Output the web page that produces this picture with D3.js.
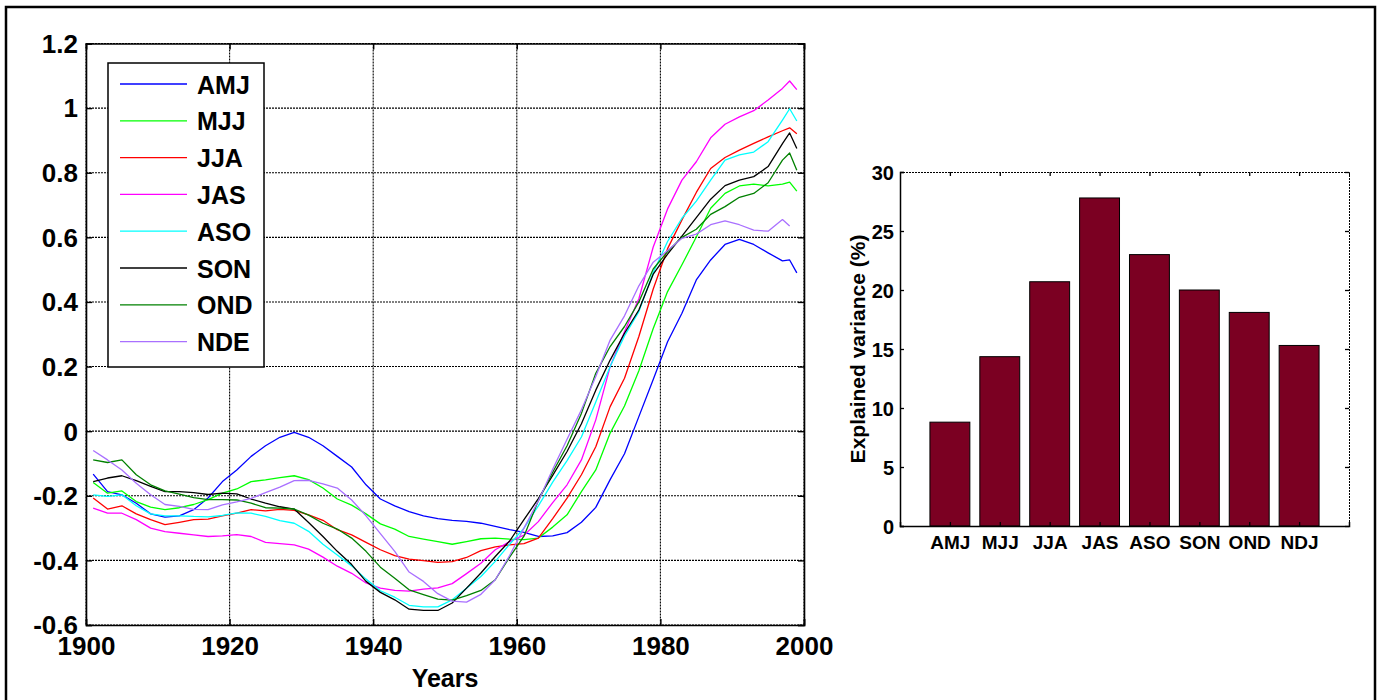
<!DOCTYPE html>
<html>
<head>
<meta charset="utf-8">
<script src="https://cdn.jsdelivr.net/npm/d3@7"></script>
<style>
  body { margin: 0; background: #fff; }
  svg { display: block; font-family: "Liberation Sans", Arial, Helvetica, sans-serif; font-weight: bold; }
</style>
</head>
<body>
<svg id="fig" width="1380" height="700"></svg>
<script>
// ---- Seasonal index series (running-mean curves) ----
const years = [1901,1903,1905,1907,1909,1911,1913,1915,1917,1919,
               1921,1923,1925,1927,1929,1931,1933,1935,1937,1939,
               1941,1943,1945,1947,1949,1951,1953,1955,1957,1959,
               1961,1963,1965,1967,1969,1971,1973,1975,1977,1979,
               1981,1983,1985,1987,1989,1991,1993,1995,1997,1998,1999];

const amj = [-0.133,-0.187,-0.197,-0.223,-0.256,-0.266,-0.262,-0.243,-0.207,-0.156,
             -0.120,-0.078,-0.045,-0.019,-0.004,-0.019,-0.045,-0.078,-0.111,-0.166,
             -0.210,-0.231,-0.249,-0.262,-0.271,-0.276,-0.279,-0.285,-0.295,-0.305,
             -0.313,-0.326,-0.324,-0.314,-0.282,-0.236,-0.150,-0.070,0.045,0.160,
             0.277,0.365,0.468,0.530,0.578,0.594,0.578,0.552,0.527,0.530,0.490];
const mjj = [-0.159,-0.192,-0.185,-0.218,-0.235,-0.243,-0.237,-0.227,-0.212,-0.192,
             -0.179,-0.156,-0.151,-0.144,-0.138,-0.150,-0.176,-0.210,-0.229,-0.256,
             -0.287,-0.303,-0.326,-0.334,-0.342,-0.350,-0.342,-0.333,-0.331,-0.334,
             -0.336,-0.331,-0.297,-0.259,-0.187,-0.120,-0.006,0.078,0.187,0.318,
             0.432,0.515,0.601,0.690,0.736,0.759,0.765,0.759,0.765,0.771,0.743];
const jja = [-0.207,-0.241,-0.231,-0.256,-0.274,-0.289,-0.282,-0.274,-0.272,-0.262,
             -0.254,-0.243,-0.247,-0.242,-0.245,-0.259,-0.276,-0.305,-0.321,-0.344,
             -0.367,-0.385,-0.396,-0.401,-0.406,-0.404,-0.391,-0.370,-0.358,-0.352,
             -0.348,-0.331,-0.271,-0.207,-0.135,-0.048,0.076,0.164,0.293,0.440,
             0.565,0.654,0.739,0.813,0.847,0.870,0.891,0.911,0.930,0.939,0.921];
const jas = [-0.238,-0.254,-0.254,-0.274,-0.300,-0.311,-0.316,-0.321,-0.326,-0.324,
             -0.320,-0.326,-0.344,-0.348,-0.352,-0.365,-0.390,-0.418,-0.440,-0.470,
             -0.486,-0.493,-0.495,-0.489,-0.485,-0.472,-0.441,-0.409,-0.367,-0.342,
             -0.322,-0.280,-0.221,-0.166,-0.089,0.035,0.200,0.308,0.410,0.570,
             0.688,0.777,0.834,0.908,0.950,0.973,0.992,1.025,1.061,1.084,1.057];
const aso = [-0.197,-0.202,-0.197,-0.231,-0.256,-0.262,-0.262,-0.264,-0.265,-0.261,
             -0.253,-0.254,-0.264,-0.277,-0.285,-0.310,-0.350,-0.383,-0.417,-0.458,
             -0.494,-0.514,-0.539,-0.544,-0.544,-0.522,-0.486,-0.450,-0.403,-0.350,
             -0.300,-0.231,-0.158,-0.091,-0.018,0.090,0.200,0.295,0.370,0.491,
             0.587,0.659,0.712,0.777,0.839,0.855,0.864,0.896,0.963,0.998,0.960];
const son = [-0.156,-0.145,-0.138,-0.153,-0.171,-0.187,-0.187,-0.190,-0.196,-0.192,
             -0.194,-0.210,-0.223,-0.234,-0.241,-0.283,-0.326,-0.372,-0.413,-0.465,
             -0.499,-0.522,-0.551,-0.555,-0.555,-0.532,-0.486,-0.439,-0.388,-0.340,
             -0.274,-0.209,-0.137,-0.063,0.023,0.127,0.220,0.303,0.375,0.486,
             0.548,0.604,0.661,0.718,0.760,0.777,0.788,0.819,0.890,0.923,0.875];
const ond = [-0.089,-0.097,-0.089,-0.135,-0.166,-0.185,-0.195,-0.206,-0.212,-0.212,
             -0.213,-0.223,-0.237,-0.238,-0.241,-0.260,-0.285,-0.303,-0.331,-0.372,
             -0.421,-0.455,-0.491,-0.506,-0.520,-0.523,-0.509,-0.493,-0.460,-0.390,
             -0.325,-0.215,-0.127,-0.045,0.055,0.179,0.262,0.324,0.400,0.502,
             0.556,0.600,0.625,0.671,0.695,0.724,0.736,0.769,0.839,0.861,0.808];
const nde = [-0.060,-0.089,-0.120,-0.161,-0.197,-0.227,-0.233,-0.242,-0.243,-0.228,
             -0.219,-0.208,-0.190,-0.173,-0.153,-0.152,-0.163,-0.176,-0.213,-0.262,
             -0.317,-0.372,-0.436,-0.465,-0.503,-0.526,-0.529,-0.505,-0.460,-0.385,
             -0.300,-0.216,-0.118,-0.025,0.066,0.169,0.282,0.357,0.450,0.523,
             0.559,0.597,0.610,0.639,0.651,0.639,0.622,0.619,0.655,0.635,null];

const seasonNames  = ["AMJ","MJJ","JJA","JAS","ASO","SON","OND","NDE"];
const seasonValues = [amj, mjj, jja, jas, aso, son, ond, nde];
const seasonColors = ["#0000ff","#00ff00","#ff0000","#ff00ff","#00ffff","#000000","#008000","#a970ff"];

const yearTicks    = [1900,1920,1940,1960,1980,2000];
const anomalyTicks = [-0.6,-0.4,-0.2,0,0.2,0.4,0.6,0.8,1,1.2];

// ---- Explained variance per season ----
const barCategories     = ["AMJ","MJJ","JJA","JAS","ASO","SON","OND","NDJ"];
const explainedVariance = [8.8,14.35,20.7,27.8,23.0,20.0,18.1,15.3];
const varianceTicks     = [0,5,10,15,20,25,30];

const svg = d3.select("#fig");

// page frame
svg.append("rect")
  .attr("x", 6).attr("y", 7).attr("width", 1369).attr("height", 700)
  .attr("fill", "none").attr("stroke", "#000").attr("stroke-width", 2.5);

// ================= Left panel: time series =================
const L = { left: 86, right: 804, top: 43.5, bottom: 625 };
const x = d3.scaleLinear().domain([1900, 2000]).range([L.left, L.right]);
const y = d3.scaleLinear().domain([-0.6, 1.2]).range([L.bottom, L.top]);

const left = svg.append("g");

// dotted grid
const gridStyle = sel => sel
  .attr("stroke", "#000").attr("stroke-width", 1.1).attr("stroke-dasharray", "2,1");
left.append("g").selectAll("line").data(yearTicks).join("line")
  .attr("x1", d => x(d)).attr("x2", d => x(d))
  .attr("y1", L.top).attr("y2", L.bottom)
  .call(gridStyle);
left.append("g").selectAll("line").data(anomalyTicks).join("line")
  .attr("x1", L.left).attr("x2", L.right)
  .attr("y1", d => y(d)).attr("y2", d => y(d))
  .call(gridStyle);

// series
const line = d3.line()
  .defined(d => d[1] !== null)
  .x(d => x(d[0]))
  .y(d => y(d[1]));

seasonValues.forEach((vals, i) => {
  left.append("path")
    .datum(years.map((yr, k) => [yr, vals[k]]))
    .attr("d", line)
    .attr("fill", "none")
    .attr("stroke", seasonColors[i])
    .attr("stroke-width", 1.3)
    .attr("stroke-linejoin", "round");
});

// axes with inward ticks
const fmtAnom = d => String(+d.toFixed(1));
const gxB = left.append("g").attr("transform", `translate(0,${L.bottom})`)
  .call(d3.axisBottom(x).tickValues(yearTicks).tickSize(-6).tickFormat(d3.format("d")));
const gxT = left.append("g").attr("transform", `translate(0,${L.top})`)
  .call(d3.axisTop(x).tickValues(yearTicks).tickSize(-6).tickFormat(""));
const gyL = left.append("g").attr("transform", `translate(${L.left},0)`)
  .call(d3.axisLeft(y).tickValues(anomalyTicks).tickSize(-6).tickPadding(8).tickFormat(fmtAnom));
const gyR = left.append("g").attr("transform", `translate(${L.right},0)`)
  .call(d3.axisRight(y).tickValues(anomalyTicks).tickSize(-6).tickFormat(""));

[gxB, gxT, gyL, gyR].forEach(g => {
  g.select(".domain").attr("stroke", "#000").attr("stroke-width", 1.6);
  g.selectAll(".tick line").attr("stroke", "#000").attr("stroke-width", 1.4);
  g.selectAll("text").attr("fill", "#000").attr("font-family", null).attr("font-size", 26).attr("font-weight", "bold");
});
gxB.selectAll("text").attr("y", 30).attr("dy", 0);
gyL.selectAll("text").attr("dy", "0.34em");

left.append("text")
  .attr("x", (L.left + L.right) / 2).attr("y", 687)
  .attr("text-anchor", "middle").attr("font-size", 25)
  .text("Years");

// legend
const leg = left.append("g");
leg.append("rect")
  .attr("x", 108).attr("y", 63).attr("width", 156).attr("height", 304)
  .attr("fill", "#fff").attr("stroke", "#000").attr("stroke-width", 1.5);
const legStep = 36.8;
seasonNames.forEach((name, i) => {
  const ly = 84 + i * legStep;
  leg.append("line")
    .attr("x1", 120).attr("x2", 187).attr("y1", ly).attr("y2", ly)
    .attr("stroke", seasonColors[i]).attr("stroke-width", 1.3);
  leg.append("text")
    .attr("x", 197).attr("y", ly + 9.5)
    .attr("font-size", 25)
    .text(name);
});

// ================= Right panel: explained variance bars =================
const B = { left: 900, right: 1349, top: 172, bottom: 526 };
const xb = d3.scaleLinear().domain([0, 9]).range([B.left, B.right]);
const yb = d3.scaleLinear().domain([0, 30]).range([B.bottom, B.top]);
const catPos = barCategories.map((c, i) => i + 1);

const right = svg.append("g");

right.append("g").selectAll("rect").data(explainedVariance).join("rect")
  .attr("x", (d, i) => xb(catPos[i] - 0.4))
  .attr("width", xb(0.8) - xb(0))
  .attr("y", d => yb(d))
  .attr("height", d => yb(0) - yb(d))
  .attr("fill", "#7b0022")
  .attr("stroke", "#000").attr("stroke-width", 1);

const bxB = right.append("g").attr("transform", `translate(0,${B.bottom})`)
  .call(d3.axisBottom(xb).tickValues(catPos).tickSize(-4).tickFormat((d, i) => barCategories[i]));
const bxT = right.append("g").attr("transform", `translate(0,${B.top})`)
  .call(d3.axisTop(xb).tickValues(catPos).tickSize(-4).tickFormat(""));
const byL = right.append("g").attr("transform", `translate(${B.left},0)`)
  .call(d3.axisLeft(yb).tickValues(varianceTicks).tickSize(-4).tickPadding(6));
const byR = right.append("g").attr("transform", `translate(${B.right},0)`)
  .call(d3.axisRight(yb).tickValues(varianceTicks).tickSize(-4).tickFormat(""));

[bxB, bxT, byL, byR].forEach(g => {
  g.select(".domain").attr("stroke", "#000").attr("stroke-width", 1.5);
  g.selectAll(".tick line").attr("stroke", "#000").attr("stroke-width", 1.3);
  g.selectAll("text").attr("fill", "#000").attr("font-family", null).attr("font-size", 19).attr("font-weight", "bold");
});
bxB.selectAll("text").attr("y", 23).attr("dy", 0);
byL.selectAll("text").attr("font-size", 20).attr("dy", "0.36em");
bxT.select(".domain").attr("stroke-width", 1).attr("stroke-dasharray", "2,1");
byR.select(".domain").attr("stroke-width", 1).attr("stroke-dasharray", "2,1");

right.append("text")
  .attr("transform", `translate(857,${(B.top + B.bottom) / 2}) rotate(-90)`)
  .attr("text-anchor", "middle").attr("dominant-baseline", "central")
  .attr("font-size", 21)
  .text("Explained variance (%)");
</script>
</body>
</html>
